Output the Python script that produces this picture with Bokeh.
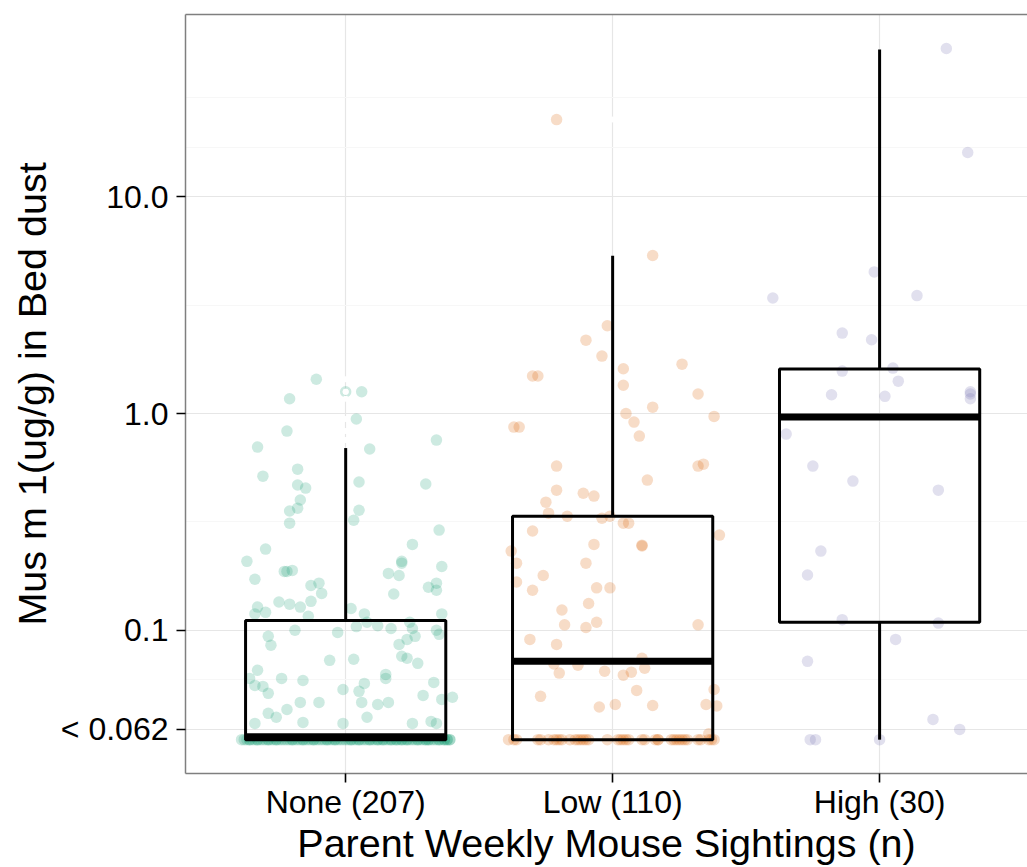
from bokeh.plotting import figure
from bokeh.models import Range1d, FixedTicker, LinearAxis
from bokeh.embed import file_html
from bokeh.resources import INLINE

# ---------------- data ----------------
categories = ["None", "Low", "High"]
counts = [207, 110, 30]
colors = ["#1B9E77", "#D95F02", "#7570B3"]

# box-plot statistics (ug/g)
q1 = [0.0313, 0.0313, 0.109]
medians = [0.0323, 0.0719, 0.963]
q3 = [0.111, 0.336, 1.606]
whisk_lo = [0.0313, 0.0313, 0.0313]
whisk_hi = [0.693, 5.34, 47.8]

# outliers (drawn white, as in the original)
none_outliers = [1.44, 1.26, 1.26, 1.17, 0.943, 0.830, 0.754]
low_outliers = [22.7]
high_outliers = []

# value assigned to samples below detection (< 0.062)
lod_value = 0.0313

# None group: detected values and their jitter
none_vals = [1.44, 1.26, 1.26, 1.17, 0.943, 0.830, 0.700, 0.754, 0.686, 0.514,
             0.554, 0.468, 0.453, 0.483, 0.473, 0.399, 0.355, 0.366, 0.358, 0.322,
             0.312, 0.290, 0.249, 0.237, 0.208, 0.208, 0.204, 0.197, 0.172, 0.187,
             0.187, 0.189, 0.183, 0.179, 0.161, 0.165, 0.148, 0.147, 0.158, 0.165,
             0.153, 0.135, 0.132, 0.128, 0.136, 0.128, 0.121, 0.116, 0.119, 0.126,
             0.119, 0.104, 0.109, 0.105, 0.102, 0.109, 0.102, 0.0938, 0.0908, 0.0861,
             0.100, 0.0958, 0.119, 0.100, 0.0938, 0.0853, 0.0978, 0.0727, 0.0735, 0.0759,
             0.0743, 0.0704, 0.0654, 0.0600, 0.0557, 0.0551, 0.0512, 0.0600, 0.0587, 0.0533,
             0.0523, 0.0569, 0.0626, 0.0600, 0.0575, 0.0501, 0.0480, 0.0491, 0.0414, 0.0397,
             0.0431, 0.0465, 0.0465, 0.0465, 0.0455, 0.0465, 0.0372, 0.0376, 0.0372, 0.0397,
             0.0372, 0.0380, 0.0372]
none_dx = [-0.11, 0.06, 0.00, -0.21, 0.04, -0.22, -0.33, 0.34, 0.09, -0.31,
           -0.18, -0.18, -0.15, 0.05, 0.30, -0.17, -0.21, -0.18, 0.05, 0.03,
           -0.21, 0.35, 0.25, -0.30, -0.37, 0.21, 0.21, 0.36, -0.34, -0.23,
           -0.22, -0.20, 0.16, 0.20, -0.13, -0.10, -0.09, 0.18, 0.31, 0.34,
           0.34, -0.25, -0.21, -0.17, -0.13, -0.33, -0.30, -0.14, -0.34, 0.02,
           0.07, 0.04, 0.08, 0.12, 0.17, 0.24, 0.25, 0.26, 0.23, 0.20,
           0.34, 0.35, 0.36, -0.19, -0.29, -0.28, -0.03, -0.06, 0.03, 0.21,
           0.23, 0.27, -0.33, -0.36, -0.34, -0.31, -0.29, -0.24, -0.16, -0.01,
           0.05, 0.07, 0.15, 0.15, 0.33, 0.29, 0.36, 0.40, -0.29, -0.26,
           -0.22, -0.17, -0.10, 0.06, 0.12, 0.16, -0.34, -0.16, -0.01, 0.08,
           0.25, 0.32, 0.34]
# None group: jitter of the 104 samples below detection
none_lod_dx = [-0.38, -0.12, 0.27, -0.33, 0.05, 0.36, -0.21, 0.14, -0.05, 0.31,
               -0.29, 0.02, 0.19, -0.36, 0.09, -0.16, 0.39, -0.02, 0.24, -0.26,
               0.11, -0.09, 0.33, -0.31, 0.17, -0.18, 0.06, 0.38, -0.13, 0.22,
               -0.35, 0.0, 0.29, -0.23, 0.13, -0.07, 0.35, -0.27, 0.08, -0.15,
               0.26, -0.39, 0.03, 0.18, -0.2, 0.32, -0.04, 0.12, -0.3, 0.21,
               -0.11, 0.37, -0.24, 0.07, -0.17, 0.28, -0.01, 0.15, -0.34, 0.23,
               -0.08, 0.34, -0.28, 0.1, -0.19, 0.3, -0.06, 0.2, -0.37, 0.04,
               0.25, -0.14, 0.39, -0.22, 0.16, -0.03, 0.31, -0.32, 0.12, -0.1,
               0.27, -0.25, 0.01, 0.35, -0.16, 0.19, -0.36, 0.09, -0.04, 0.23,
               -0.29, 0.37, -0.12, 0.05, 0.3, -0.2, 0.14, -0.33, 0.21, -0.07,
               0.38, -0.26, 0.17, 0.02]

# Low group
low_vals = [22.7, 5.36, 2.54, 2.18, 1.84, 1.49, 1.49, 1.61, 1.35, 1.69,
            1.23, 1.07, 1.00, 0.913, 0.97, 0.866, 0.866, 0.787, 0.572, 0.584,
            0.493, 0.572, 0.443, 0.429, 0.416, 0.390, 0.347, 0.336, 0.329, 0.336,
            0.312, 0.312, 0.287, 0.275, 0.249, 0.247, 0.245, 0.232, 0.204, 0.204,
            0.179, 0.167, 0.157, 0.157, 0.153, 0.124, 0.133, 0.106, 0.103, 0.109,
            0.106, 0.0908, 0.0861, 0.0743, 0.070, 0.069, 0.0635, 0.0647, 0.0621, 0.0641,
            0.0668, 0.0496, 0.0528, 0.0533, 0.0443, 0.0455, 0.045, 0.0455, 0.0448, 0.0333]
low_dx = [-0.21, 0.15, -0.02, -0.10, -0.04, -0.30, -0.28, 0.04, 0.04, 0.26,
          0.32, 0.15, 0.05, 0.08, 0.38, -0.37, -0.35, 0.10, 0.32, 0.34,
          0.13, -0.21, -0.21, -0.11, -0.07, -0.25, -0.24, -0.17, -0.04, -0.01,
          0.04, 0.06, -0.30, 0.40, -0.07, 0.11, 0.11, -0.38, -0.36, -0.10,
          -0.26, -0.36, -0.06, -0.01, -0.30, -0.19, -0.09, -0.18, -0.10, -0.06,
          0.32, -0.31, -0.21, 0.11, -0.22, -0.13, -0.20, -0.03, 0.04, 0.07,
          0.12, -0.27, 0.09, 0.38, -0.05, 0.01, 0.15, 0.35, 0.39, 0.36]
low_lod_dx = [-0.39, -0.36, -0.28, -0.24, -0.21, -0.20, -0.16, -0.13, -0.11, -0.09,
              -0.02, 0.02, 0.04, 0.06, 0.11, 0.16, 0.17, 0.22, 0.24, 0.26,
              0.28, 0.32, 0.36, 0.38, -0.37, -0.27, -0.22, -0.14, -0.10, -0.12,
              0.03, 0.05, 0.12, 0.17, 0.23, 0.25, 0.27, 0.33, 0.37, -0.19]

# High group
high_vals = [48.3, 16.0, 4.50, 3.41, 3.50, 2.35, 2.19, 1.57, 1.62, 1.41,
             1.22, 1.20, 1.26, 1.23, 1.17, 0.804, 0.572, 0.488, 0.443, 0.232,
             0.180, 0.112, 0.108, 0.0908, 0.0719, 0.0388, 0.0349, 0.0313, 0.0313, 0.0313]
high_dx = [0.25, 0.33, -0.02, -0.40, 0.14, -0.14, -0.03, -0.14, 0.05, 0.07,
           -0.18, 0.02, 0.34, 0.34, 0.34, -0.35, -0.25, -0.10, 0.22, -0.22,
           -0.27, -0.14, 0.22, 0.06, -0.27, 0.20, 0.30, -0.26, -0.24, 0.00]

y_major = [0.0349, 0.1, 1, 10]
y_major_labels = ["< 0.062", "0.1", "1.0", "10.0"]
y_minor = [0.0591, 0.316, 3.16, 16.9, 28.6]
y_limits = [0.02185, 69.3]
x_limits = [0.4, 3.554]

# ---------------- figure ----------------
FONT = "Liberation Sans"
BORDER = "#7F7F7F"
p = figure(width=1027, height=867, output_backend="svg", toolbar_location=None,
           y_axis_type="log", x_range=Range1d(*x_limits), y_range=Range1d(*y_limits),
           min_border_left=185, min_border_top=14, min_border_right=0, min_border_bottom=0)
p.background_fill_color = "white"
p.border_fill_color = "white"
p.outline_line_color = None

# grids
p.xgrid.ticker = FixedTicker(ticks=[1, 2, 3])
p.xgrid.grid_line_color = "#E6E6E6"
p.xgrid.grid_line_width = 1.2
p.ygrid.ticker = FixedTicker(ticks=y_major, minor_ticks=y_minor)
p.ygrid.grid_line_color = "#E6E6E6"
p.ygrid.grid_line_width = 1.2
p.ygrid.minor_grid_line_color = "#F7F7F7"
p.ygrid.minor_grid_line_width = 1.2

# axes
p.xaxis.ticker = FixedTicker(ticks=[1, 2, 3])
p.xaxis.major_label_overrides = {i + 1: f"{c} ({n})" for i, (c, n) in enumerate(zip(categories, counts))}
p.yaxis.ticker = FixedTicker(ticks=y_major)
p.yaxis.major_label_overrides = {t: l for t, l in zip(y_major, y_major_labels)}
for ax in (p.xaxis[0], p.yaxis[0]):
    ax.axis_line_color = BORDER
    ax.axis_line_width = 1.5
    ax.major_tick_line_color = "black"
    ax.major_tick_line_width = 1.6
    ax.major_tick_out = 9
    ax.major_tick_in = 0
    ax.minor_tick_line_color = None
    ax.major_label_text_font = FONT
    ax.major_label_text_font_size = "32px"
    ax.major_label_text_color = "black"
    ax.axis_label_text_font = FONT
    ax.axis_label_text_font_size = "39.5px"
    ax.axis_label_text_font_style = "normal"
    ax.axis_label_text_color = "black"
p.xaxis.axis_label = "Parent Weekly Mouse Sightings (n)"
p.yaxis.axis_label = "Mus m 1(ug/g) in Bed dust"
p.xaxis.major_label_standoff = 1
p.xaxis.axis_label_standoff = -2
p.yaxis.major_label_standoff = 8
p.yaxis.axis_label_standoff = 4

# top panel border (no ticks, no labels)
top_border = LinearAxis(ticker=FixedTicker(ticks=[]), axis_line_color=BORDER, axis_line_width=1.5,
                        major_tick_line_color=None, minor_tick_line_color=None,
                        major_label_text_font_size="0px")
p.add_layout(top_border, "above")

# jittered points
groups = [
    (none_vals + [lod_value] * len(none_lod_dx), none_dx + none_lod_dx),
    (low_vals + [lod_value] * len(low_lod_dx), low_dx + low_lod_dx),
    (high_vals, high_dx),
]
for i, (vals, dxs) in enumerate(groups):
    xs = [i + 1 + d for d in dxs]
    p.scatter(xs, vals, size=11.5, color=colors[i], alpha=0.22, line_color=None)

# box plots
xc = [1, 2, 3]
half = 0.375
p.segment(x0=xc, y0=q3, x1=xc, y1=whisk_hi, line_color="black", line_width=3)
p.segment(x0=xc, y0=q1, x1=xc, y1=whisk_lo, line_color="black", line_width=3)
p.quad(left=[x - half for x in xc], right=[x + half for x in xc], bottom=q1, top=q3,
       fill_color=None, line_color="black", line_width=3)
p.segment(x0=[x - half for x in xc], y0=medians, x1=[x + half for x in xc], y1=medians,
          line_color="black", line_width=7)

# outliers
out_x, out_y = [], []
for i, outs in enumerate([none_outliers, low_outliers, high_outliers]):
    out_x += [i + 1] * len(outs)
    out_y += outs
p.scatter(out_x, out_y, size=6, color="white", line_color=None)

open("out.html", "w").write(file_html(p, INLINE))
